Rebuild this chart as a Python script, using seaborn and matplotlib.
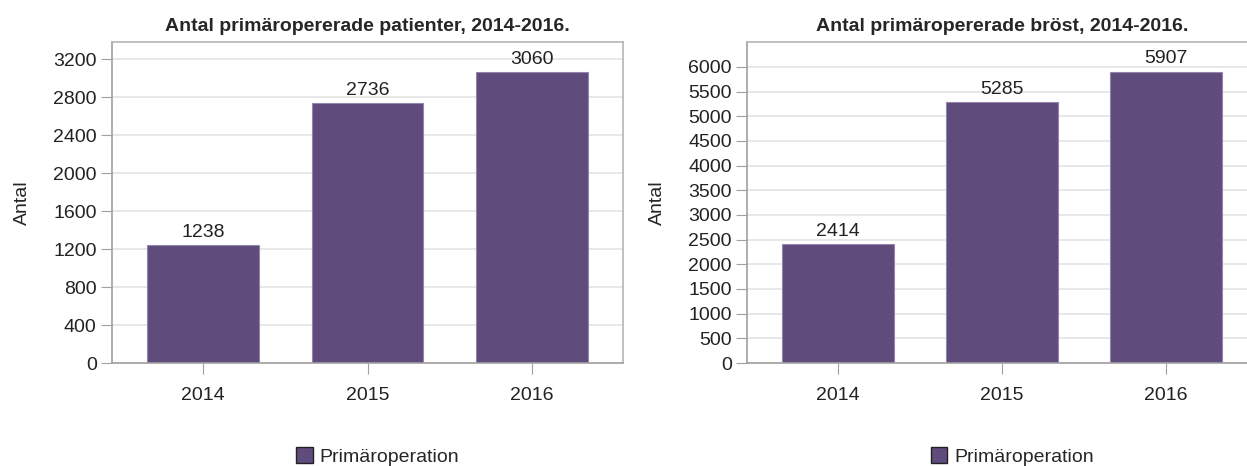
import pandas as pd
import matplotlib.pyplot as plt
import seaborn as sns

years = ["2014", "2015", "2016"]
patienter = [1238, 2736, 3060]
brost = [2414, 5285, 5907]
serie = "Primäroperation"

titles = ["Antal primäropererade patienter, 2014-2016.",
          "Antal primäropererade bröst, 2014-2016."]
yticks_left = list(range(0, 3201, 400))
yticks_right = list(range(0, 6001, 500))

bar_color = "#5f4b7c"

sns.set_style("white")
plt.rcParams['font.family'] = ['Liberation Sans', 'DejaVu Sans']


def draw(ax, values, title, yticks, ymax):
    df = pd.DataFrame({"År": years, "Antal": values, "Typ": serie})
    sns.barplot(data=df, x="År", y="Antal", hue="Typ", palette=[bar_color],
                width=0.68, edgecolor="#9486ab", linewidth=0.8, ax=ax,
                saturation=1)
    for c in ax.containers:
        ax.bar_label(c, fmt="%d", padding=3, fontsize=14, color="#222222")
    ax.set_xlim(-0.553, 2.553)
    ax.set_ylim(0, ymax)
    ax.set_yticks(yticks)
    ax.set_title(title, fontsize=14, fontweight="bold", pad=8)
    ax.set_xlabel("")
    ax.set_ylabel("Antal", fontsize=14, labelpad=16)
    ax.tick_params(axis="both", labelsize=14, length=8, color="#a0a0a0",
                   colors="#222222", direction="out", bottom=True, left=True)
    ax.tick_params(axis="x", pad=9)
    ax.tick_params(axis="y", pad=3)
    ax.yaxis.grid(True, color="#e6e6e6", linewidth=1.3)
    ax.set_axisbelow(True)
    for s in ax.spines.values():
        s.set_color("#b5b5b5")
        s.set_linewidth(1.2)
    ax.spines["bottom"].set_color("#a0a0a0")
    ax.spines["left"].set_color("#a0a0a0")
    leg = ax.legend(loc="center", bbox_to_anchor=(0.52, -0.292), frameon=False,
                    fontsize=14, handlelength=0.85, handleheight=0.85,
                    handletextpad=0.35, borderpad=0.2)
    for h in leg.legend_handles:
        h.set_edgecolor("#222222")
        h.set_linewidth(1.0)


fig = plt.figure(figsize=(12.47, 4.66), dpi=100)
W, H = 1247, 466
ax1 = fig.add_axes([112 / W, 1 - 363 / H, (623 - 112) / W, (363 - 42) / H])
ax2 = fig.add_axes([747 / W, 1 - 363 / H, (1257 - 747) / W, (363 - 42) / H])

draw(ax1, patienter, titles[0], yticks_left, 3380)
draw(ax2, brost, titles[1], yticks_right, 6505)

fig.savefig("out.png", dpi=100)
